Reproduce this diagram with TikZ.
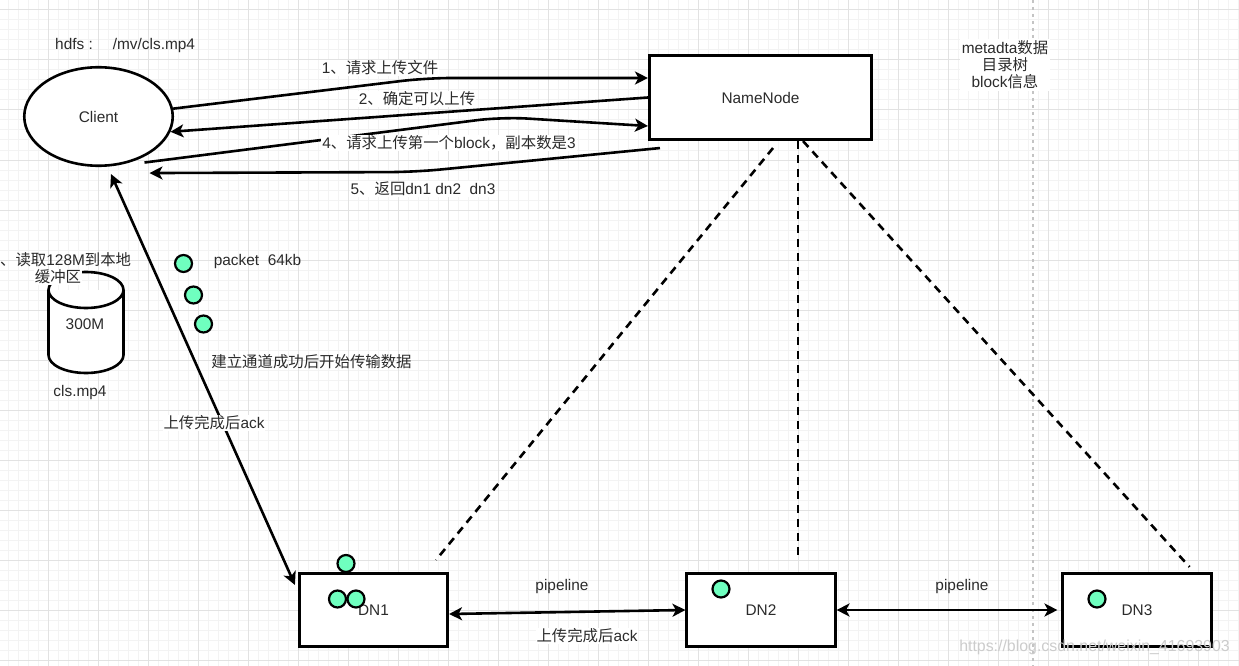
\documentclass[tikz,border=0pt]{standalone}
\usepackage{fontspec}
\setmainfont{Liberation Sans}
\newfontfamily\cjk{Noto Sans CJK SC}
\newcommand{\zh}[1]{{\cjk #1}}
\usetikzlibrary{arrows.meta,shapes.geometric}
\definecolor{mint}{HTML}{6FFFBF}
\definecolor{txtgray}{HTML}{2B2B2B}
\definecolor{gridminor}{HTML}{F3F3F3}
\definecolor{gridmajor}{HTML}{E2E2E2}
\definecolor{sepgray}{HTML}{C4C4C4}

\begin{document}
\begin{tikzpicture}[x=1pt,y=-1pt,
    every node/.style={font=\fontsize{15.4}{17}\selectfont, text=txtgray},
    edgeline/.style={line width=2.6pt},
    tip/.style={-{Stealth[length=13pt,width=13pt,inset=3.5pt]}},
    bothtips/.style={{Stealth[length=13pt,width=13pt,inset=3.5pt]}-{Stealth[length=13pt,width=13pt,inset=3.5pt]}},
    nnlink/.style={line width=2.6pt, dash pattern=on 8pt off 6pt},
    dnbox/.style={draw, line width=2.6pt, fill=white, minimum width=148.5pt, minimum height=73.5pt, inner sep=0pt},
    packet/.style={circle, draw, line width=2.2pt, fill=mint, minimum size=17pt, inner sep=0pt},
    edgelabel/.style={fill=white, inner sep=1pt}]

    \useasboundingbox (0,0) rectangle (1239,666);
    \fill[white] (0,0) rectangle (1239,666);

    % background grid
    \foreach \gx in {8,18,...,1238} \draw[gridminor, line width=1pt] (\gx,0) -- (\gx,666);
    \foreach \gy in {0,10,...,660} \draw[gridminor, line width=1pt] (0,\gy) -- (1239,\gy);
    \foreach \gx in {48,98,...,1198} \draw[gridmajor, line width=1pt] (\gx,0) -- (\gx,666);
    \foreach \gy in {10,60,...,660} \draw[gridmajor, line width=1pt] (0,\gy) -- (1239,\gy);

    \draw[sepgray, line width=1.6pt, dash pattern=on 3pt off 4pt] (1033,0) -- (1033,666);

    \node[ellipse, draw, line width=2.6pt, fill=white, minimum width=148.5pt, minimum height=98.5pt, inner sep=0pt] (client) at (98.5,116.5) {Client};
    \node[draw, line width=2.6pt, fill=white, minimum width=222.5pt, minimum height=84.5pt, inner sep=0pt] (namenode) at (760.5,97.5) {NameNode};

    \node[dnbox] (dn1) at (373.5,610) {DN1};
    \node[dnbox] (dn2) at (761,610) {DN2};
    \node[dnbox] (dn3) at (1137,610) {DN3};

    % local file
    \draw[edgeline, fill=white] (48.5,290) -- (48.5,355) arc[start angle=180, end angle=0, x radius=37.5, y radius=18] -- (123.5,290);
    \draw[edgeline] (86,290) ellipse [x radius=37.5, y radius=18];
    \node (filesize) at (85,324) {300M};
    \node (filename) at (80,393) {cls.mp4};
    \node[anchor=west, inner sep=0pt] (readone) at (0,260) {\zh{、读取}128M\zh{到本地}};
    \node[fill=white, inner sep=1pt] (readtwo) at (58,277) {\zh{缓冲区}};

    \node[anchor=west, inner sep=0pt] (hdfspath) at (55,46) {hdfs :\hspace{20pt}/mv/cls.mp4};
    \node[fill=white, align=center, inner sep=2pt] (metainfo) at (1005,65) {metadta\zh{数据}\\\zh{目录树}\\block\zh{信息}};

    % client <-> namenode
    \draw[edgeline, tip, rounded corners=25pt] (client.6) -- (426,78) -- ([yshift=19.5pt]namenode.west);
    \draw[edgeline, tip] (namenode.west) -- (client.-12);
    \draw[edgeline, tip, rounded corners=25pt] ([xshift=4pt,yshift=-4pt]client.-45) -- (502,117) -- ([yshift=-28.5pt]namenode.west);
    \draw[edgeline, tip, rounded corners=25pt] ([xshift=12pt,yshift=-7pt]namenode.south west) -- (415,172) -- ([xshift=51pt,yshift=-6pt]client.south);

    \node[edgelabel] (askupload) at (380,68) {1\zh{、请求上传文件}};
    \node[edgelabel] (okupload) at (417,99) {2\zh{、确定可以上传}};
    \node[edgelabel] (askblock) at (449,143) {4\zh{、请求上传第一个}block\zh{，副本数是}3};
    \node[edgelabel] (dnlist) at (423,189) {5\zh{、返回}dn1 dn2\ \ dn3};

    % namenode to datanodes
    \draw[nnlink] ([xshift=12.5pt,yshift=-7pt]namenode.south) -- ([xshift=-13pt,yshift=12pt]dn1.north east);
    \draw[nnlink] ([xshift=37.5pt]namenode.south) -- ([xshift=37pt,yshift=12pt]dn2.north);
    \draw[nnlink] ([xshift=42.5pt]namenode.south) -- ([xshift=-23pt,yshift=5pt]dn3.north east);

    % client to dn1
    \draw[edgeline, bothtips] ([xshift=12.5pt,yshift=-7pt]client.south) -- ([xshift=-3pt,yshift=-13pt]dn1.north west);
    \node[edgelabel] (ackone) at (214,423) {\zh{上传完成后}ack};

    \node[packet] (pkta) at (183.5,263.5) {};
    \node[packet] (pktb) at (193.5,295) {};
    \node[packet] (pktc) at (203.5,324) {};
    \node (pktsize) at (257.5,262) {packet\ \ 64kb};
    \node (channel) at (311.5,362) {\zh{建立通道成功后开始传输数据}};

    \node[packet] (blka) at (346,563.5) {};
    \node[packet] (blkb) at (337.5,599) {};
    \node[packet] (blkc) at (356,599) {};
    \node[packet] (blkd) at (721,589) {};
    \node[packet] (blke) at (1097,599) {};

    % pipeline
    \draw[edgeline, bothtips] ([yshift=-4pt]dn1.east) -- (dn2.west);
    \draw[edgeline, bothtips] (dn2.east) -- ([xshift=-4pt]dn3.west);
    \node (pipeone) at (562,587) {pipeline};
    \node[edgelabel] (acktwo) at (587,636) {\zh{上传完成后}ack};
    \node (pipetwo) at (962,587) {pipeline};

    \node[text=black!20, font=\fontsize{15.9}{17}\selectfont] (watermark) at (1094.5,647) {https://blog.csdn.net/weixin\_41693903};
\end{tikzpicture}
\end{document}
